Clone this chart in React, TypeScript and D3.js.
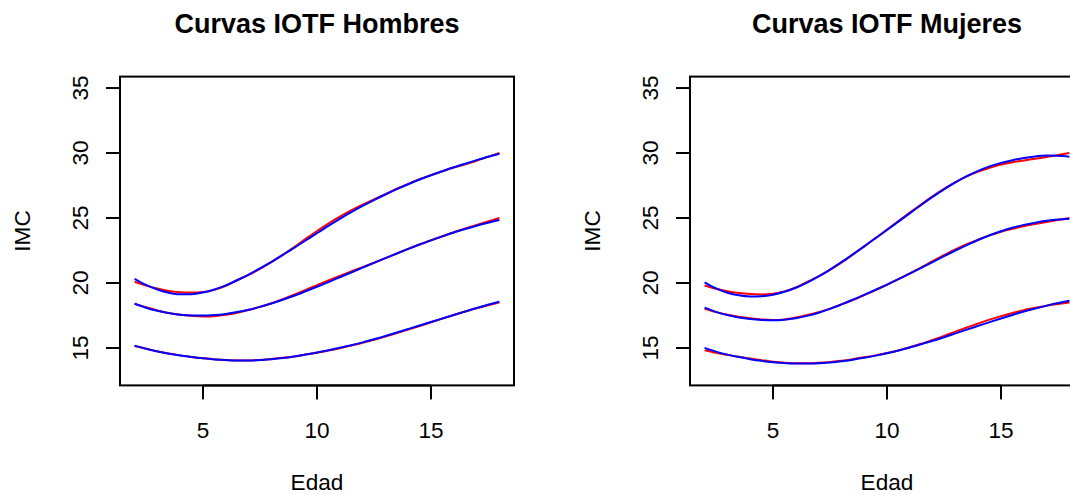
import React from "react";
import * as d3 from "d3";

// Edad (años), cada medio año de 2 a 18
const ages = [2, 2.5, 3, 3.5, 4, 4.5, 5, 5.5, 6, 6.5, 7, 7.5, 8, 8.5, 9, 9.5, 10, 10.5, 11, 11.5, 12, 12.5, 13, 13.5, 14, 14.5, 15, 15.5, 16, 16.5, 17, 17.5, 18];

// Hombres: puntos de corte de referencia (rojo)
const hombresRef30 = [20.09, 19.8, 19.57, 19.39, 19.29, 19.26, 19.3, 19.47, 19.78, 20.23, 20.63, 21.09, 21.6, 22.17, 22.77, 23.39, 24.0, 24.57, 25.1, 25.58, 26.02, 26.43, 26.84, 27.25, 27.63, 27.98, 28.3, 28.6, 28.88, 29.14, 29.41, 29.7, 30.0];
const hombresRef25 = [18.41, 18.13, 17.89, 17.69, 17.55, 17.47, 17.42, 17.45, 17.55, 17.71, 17.92, 18.16, 18.44, 18.76, 19.1, 19.46, 19.84, 20.2, 20.55, 20.89, 21.22, 21.56, 21.91, 22.27, 22.62, 22.96, 23.29, 23.6, 23.9, 24.19, 24.46, 24.73, 25.0];
const hombresRef185 = [15.14, 14.94, 14.74, 14.57, 14.43, 14.31, 14.21, 14.13, 14.07, 14.04, 14.04, 14.08, 14.15, 14.24, 14.35, 14.49, 14.64, 14.8, 14.98, 15.18, 15.4, 15.63, 15.88, 16.14, 16.41, 16.69, 16.98, 17.26, 17.54, 17.8, 18.05, 18.28, 18.5];

// Hombres: curvas ajustadas (azul)
const hombresAjuste30 = [20.32, 19.85, 19.5, 19.25, 19.13, 19.14, 19.27, 19.5, 19.82, 20.21, 20.65, 21.13, 21.63, 22.16, 22.7, 23.27, 23.84, 24.4, 24.94, 25.45, 25.93, 26.38, 26.81, 27.22, 27.6, 27.96, 28.29, 28.6, 28.9, 29.18, 29.45, 29.71, 29.95];
const hombresAjuste25 = [18.4, 18.1, 17.86, 17.68, 17.56, 17.5, 17.49, 17.53, 17.62, 17.76, 17.94, 18.16, 18.42, 18.71, 19.02, 19.36, 19.71, 20.07, 20.44, 20.81, 21.18, 21.55, 21.91, 22.27, 22.62, 22.96, 23.28, 23.59, 23.88, 24.15, 24.41, 24.64, 24.85];
const hombresAjuste185 = [15.18, 14.94, 14.73, 14.56, 14.42, 14.3, 14.2, 14.12, 14.07, 14.04, 14.04, 14.07, 14.14, 14.23, 14.35, 14.49, 14.65, 14.82, 15.01, 15.21, 15.43, 15.67, 15.92, 16.19, 16.46, 16.73, 17.0, 17.27, 17.54, 17.81, 18.07, 18.32, 18.56];

// Mujeres: puntos de corte de referencia (rojo)
const mujeresRef30 = [19.81, 19.55, 19.36, 19.23, 19.15, 19.12, 19.17, 19.34, 19.65, 20.08, 20.51, 21.01, 21.57, 22.18, 22.81, 23.46, 24.11, 24.77, 25.42, 26.05, 26.67, 27.24, 27.76, 28.2, 28.57, 28.87, 29.11, 29.29, 29.43, 29.56, 29.69, 29.84, 30.0];
const mujeresRef25 = [18.02, 17.76, 17.56, 17.4, 17.28, 17.19, 17.15, 17.2, 17.34, 17.53, 17.75, 18.03, 18.35, 18.69, 19.07, 19.45, 19.86, 20.29, 20.74, 21.2, 21.68, 22.14, 22.58, 22.98, 23.34, 23.66, 23.94, 24.17, 24.37, 24.54, 24.7, 24.85, 25.0];
const mujeresRef185 = [14.83, 14.63, 14.47, 14.32, 14.19, 14.06, 13.94, 13.86, 13.82, 13.82, 13.86, 13.93, 14.02, 14.14, 14.28, 14.43, 14.61, 14.81, 15.05, 15.32, 15.62, 15.93, 16.26, 16.57, 16.88, 17.18, 17.45, 17.69, 17.91, 18.09, 18.25, 18.38, 18.5];

// Mujeres: curvas ajustadas (azul)
const mujeresAjuste30 = [20.05, 19.58, 19.25, 19.05, 18.96, 18.98, 19.1, 19.32, 19.63, 20.03, 20.5, 21.03, 21.6, 22.2, 22.82, 23.45, 24.08, 24.72, 25.36, 26.0, 26.62, 27.2, 27.74, 28.22, 28.63, 28.97, 29.24, 29.45, 29.62, 29.74, 29.8, 29.79, 29.72];
const mujeresAjuste25 = [18.1, 17.78, 17.53, 17.35, 17.23, 17.16, 17.14, 17.18, 17.29, 17.47, 17.71, 18.01, 18.35, 18.71, 19.09, 19.48, 19.88, 20.29, 20.72, 21.16, 21.61, 22.06, 22.5, 22.92, 23.31, 23.67, 23.98, 24.25, 24.47, 24.64, 24.78, 24.88, 24.94];
const mujeresAjuste185 = [15.01, 14.72, 14.49, 14.3, 14.14, 14.01, 13.91, 13.84, 13.8, 13.8, 13.83, 13.89, 13.98, 14.1, 14.24, 14.41, 14.6, 14.81, 15.04, 15.29, 15.55, 15.83, 16.12, 16.41, 16.7, 16.99, 17.27, 17.54, 17.8, 18.04, 18.26, 18.46, 18.64];

const xTicks = [5, 10, 15];
const yTicks = [15, 20, 25, 30, 35];
const xDomain = [2, 18];
const yDomain = [13, 35];

const W = 1070;
const H = 495;
const FONT = "'Liberation Sans', Arial, Helvetica, sans-serif";

type PanelProps = {
  title: string;
  offsetX: number;
  red: number[][];
  blue: number[][];
  clipId: string;
};

function Panel({ title, offsetX, red, blue, clipId }: PanelProps) {
  // plot region (R style: 4% padding around the data range)
  const left = 120 + offsetX;
  const right = 514 + offsetX;
  const top = 76.6;
  const bottom = 385.4;
  const padX = (xDomain[1] - xDomain[0]) * 0.04;
  const padY = (yDomain[1] - yDomain[0]) * 0.04;
  const x = d3.scaleLinear().domain([xDomain[0] - padX, xDomain[1] + padX]).range([left, right]);
  const y = d3.scaleLinear().domain([yDomain[0] - padY, yDomain[1] + padY]).range([bottom, top]);

  const line = d3
    .line<[number, number]>()
    .x((d) => x(d[0]))
    .y((d) => y(d[1]))
    .curve(d3.curveMonotoneX);

  const toPts = (vals: number[]) => ages.map((a, i) => [a, vals[i]] as [number, number]);
  const cx = (left + right) / 2;
  const cy = (top + bottom) / 2;
  const tickLen = 14;

  return (
    <g>
      <clipPath id={clipId}>
        <rect x={left} y={top} width={right - left} height={bottom - top} />
      </clipPath>
      <g clipPath={`url(#${clipId})`} fill="none" strokeWidth={2}>
        {red.map((s, i) => (
          <path key={"r" + i} d={line(toPts(s)) || ""} stroke="#ff0000" />
        ))}
        {blue.map((s, i) => (
          <path key={"b" + i} d={line(toPts(s)) || ""} stroke="#0000ff" />
        ))}
      </g>
      <rect x={left} y={top} width={right - left} height={bottom - top} fill="none" stroke="#000" strokeWidth={2} />

      {/* x axis */}
      <line x1={x(xTicks[0])} x2={x(xTicks[xTicks.length - 1])} y1={bottom} y2={bottom} stroke="#000" strokeWidth={2} />
      {xTicks.map((t) => (
        <g key={"xt" + t}>
          <line x1={x(t)} x2={x(t)} y1={bottom} y2={bottom + tickLen} stroke="#000" strokeWidth={2} />
          <text x={x(t)} y={438} textAnchor="middle" fontFamily={FONT} fontSize={22.6} fill="#000">
            {t}
          </text>
        </g>
      ))}

      {/* y axis */}
      <line x1={left} x2={left} y1={y(yTicks[0])} y2={y(yTicks[yTicks.length - 1])} stroke="#000" strokeWidth={2} />
      {yTicks.map((t) => (
        <g key={"yt" + t}>
          <line x1={left - tickLen} x2={left} y1={y(t)} y2={y(t)} stroke="#000" strokeWidth={2} />
          <text
            transform={`translate(${left - 32},${y(t)}) rotate(-90)`}
            textAnchor="middle"
            fontFamily={FONT}
            fontSize={22.6}
            fill="#000"
          >
            {t}
          </text>
        </g>
      ))}

      {/* titles */}
      <text x={cx} y={33} textAnchor="middle" fontFamily={FONT} fontSize={27} fontWeight="bold" fill="#000">
        {title}
      </text>
      <text x={cx} y={490} textAnchor="middle" fontFamily={FONT} fontSize={22.6} fill="#000">
        Edad
      </text>
      <text
        transform={`translate(${left - 90},${cy}) rotate(-90)`}
        textAnchor="middle"
        fontFamily={FONT}
        fontSize={22.6}
        fill="#000"
      >
        IMC
      </text>
    </g>
  );
}

export default function App() {
  return (
    <svg
      width={W}
      height={H}
      viewBox={`0 0 ${W} ${H}`}
      style={{ position: "absolute", left: 0, top: 0, background: "#fff" }}
    >
      <rect x={0} y={0} width={W} height={H} fill="#fff" />
      <Panel
        title="Curvas IOTF Hombres"
        offsetX={0}
        red={[hombresRef30, hombresRef25, hombresRef185]}
        blue={[hombresAjuste30, hombresAjuste25, hombresAjuste185]}
        clipId="clip-hombres"
      />
      <Panel
        title="Curvas IOTF Mujeres"
        offsetX={570}
        red={[mujeresRef30, mujeresRef25, mujeresRef185]}
        blue={[mujeresAjuste30, mujeresAjuste25, mujeresAjuste185]}
        clipId="clip-mujeres"
      />
    </svg>
  );
}
